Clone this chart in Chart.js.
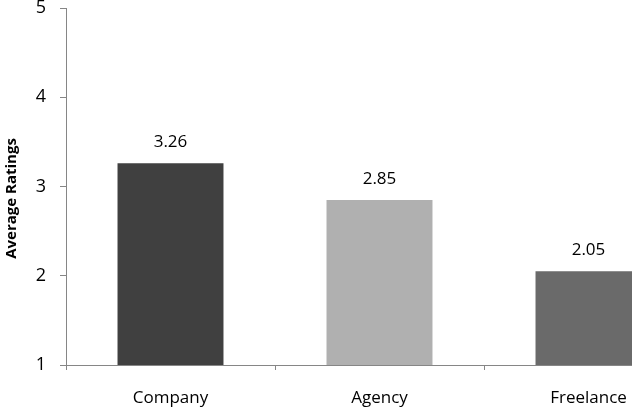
<!DOCTYPE html>
<html>
<head>
<meta charset="utf-8">
<script src="https://cdn.jsdelivr.net/npm/chart.js@4/dist/chart.umd.min.js"></script>
<style>
    html, body { margin: 0; padding: 0; background: #fff; overflow: hidden; }
    #wrap { position: relative; width: 700px; height: 408px; }
</style>
</head>
<body>
<div id="wrap"><canvas id="chart"></canvas></div>
<script>
// chart data
var categories = ["Company", "Agency", "Freelance"];
var ratings = [3.26, 2.85, 2.05];
var barColors = ["#404040", "#b0b0b0", "#6a6a6a"];
var yTicks = [1, 2, 3, 4, 5];
var yTitle = "Average Ratings";

var axisColor = "#868686";
var fontFamily = "'Open Sans', 'Noto Sans', sans-serif";

// write the value above each bar, plus the rotated y title
var valueLabels = {
    id: "valueLabels",
    afterDatasetsDraw: function (chart) {
        var ctx = chart.ctx;
        var meta = chart.getDatasetMeta(0);
        ctx.save();
        ctx.font = "17px " + fontFamily;
        ctx.fillStyle = "#000";
        ctx.textAlign = "center";
        ctx.textBaseline = "middle";
        meta.data.forEach(function (bar, i) {
            ctx.fillText(ratings[i].toFixed(2), bar.x, bar.y - 21);
        });

        // y title sits a bit below the plot middle, like the original
        var area = chart.chartArea;
        ctx.translate(12, (area.top + area.bottom) / 2 + 12);
        ctx.rotate(-Math.PI / 2);
        ctx.font = "bold 15px " + fontFamily;
        ctx.fillText(yTitle, 0, 0);
        ctx.restore();
    }
};

var ctx = document.getElementById("chart").getContext("2d");
new Chart(ctx, {
    type: "bar",
    data: {
        labels: categories,
        datasets: [{
            data: ratings,
            backgroundColor: barColors,
            categoryPercentage: 1,
            barPercentage: 0.507
        }]
    },
    options: {
        responsive: true,
        maintainAspectRatio: false,
        animation: false,
        layout: { padding: { top: 8, right: 7, left: 0, bottom: 0 } },
        plugins: {
            legend: { display: false },
            tooltip: { enabled: false }
        },
        scales: {
            x: {
                grid: {
                    drawOnChartArea: false,
                    drawTicks: true,
                    tickLength: 5,
                    color: axisColor
                },
                border: { color: axisColor },
                ticks: {
                    color: "#000",
                    padding: 18,
                    font: { family: fontFamily, size: 17 }
                },
                afterFit: function (scale) {
                    scale.height = 43;
                    scale.paddingLeft = 0;
                    scale.paddingRight = 0;
                }
            },
            y: {
                min: 1,
                max: 5,
                afterBuildTicks: function (scale) {
                    scale.ticks = yTicks.map(function (v) { return { value: v }; });
                },
                grid: {
                    drawOnChartArea: false,
                    drawTicks: true,
                    tickLength: 6,
                    color: axisColor
                },
                border: { color: axisColor },
                ticks: {
                    color: "#000",
                    padding: 14,
                    font: { family: fontFamily, size: 18 }
                },
                afterFit: function (scale) {
                    scale.width = 66;
                    scale.paddingTop = 0;
                    scale.paddingBottom = 0;
                }
            }
        }
    },
    plugins: [valueLabels]
});
</script>
</body>
</html>
